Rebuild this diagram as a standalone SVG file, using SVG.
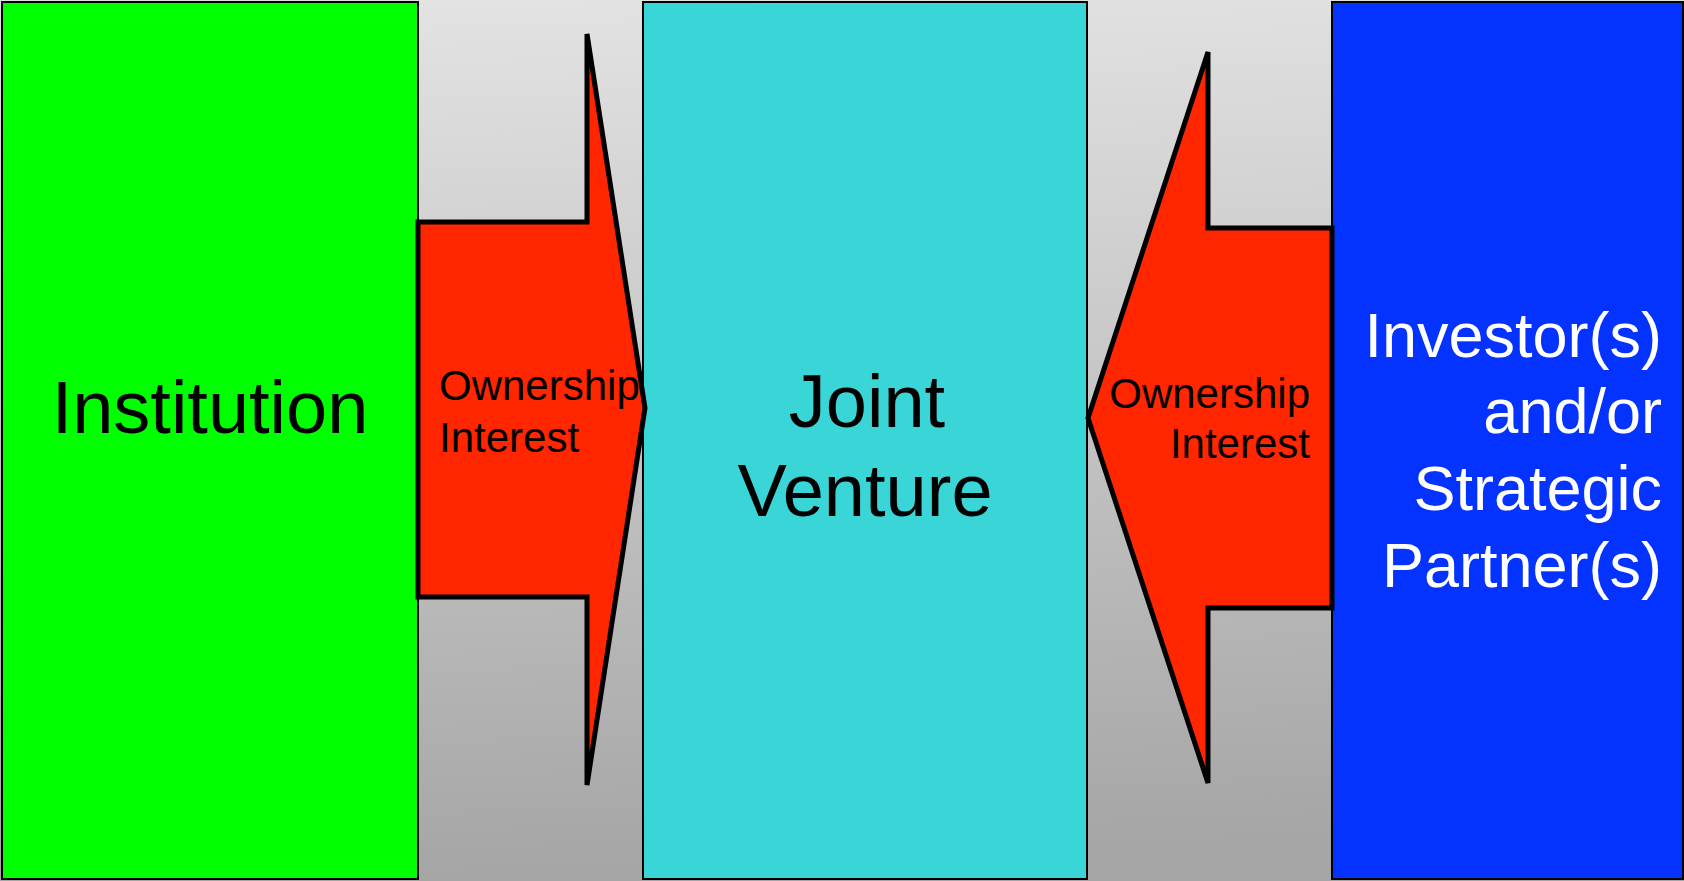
<svg xmlns="http://www.w3.org/2000/svg" width="1684" height="881" viewBox="0 0 1684 881">
  <defs>
    <linearGradient id="bg" x1="0" y1="0" x2="0.08" y2="1">
      <stop offset="0" stop-color="#e4e4e4"/>
      <stop offset="1" stop-color="#a6a6a6"/>
    </linearGradient>
    <style>
      .box { stroke: #000; stroke-width: 2; }
      .arrow { fill: #ff2600; stroke: #000; stroke-width: 5; stroke-linejoin: miter; stroke-miterlimit: 4; }
      .big { font-family: "Liberation Sans", Arial, sans-serif; font-size: 74px; fill: #000; }
      .side { font-family: "Liberation Sans", Arial, sans-serif; font-size: 63px; fill: #fff; text-anchor: end; }
      .lbl { font-family: "Liberation Sans", Arial, sans-serif; font-size: 42px; fill: #000; }
    </style>
  </defs>

  <!-- backdrop -->
  <rect x="0" y="0" width="1684" height="881" fill="url(#bg)"/>

  <g id="institution">
    <rect class="box" x="2" y="2" width="416" height="877" fill="#00ff00"/>
    <text class="big" x="210" y="433" text-anchor="middle">Institution</text>
  </g>

  <g id="joint-venture">
    <rect class="box" x="643" y="2" width="444" height="877" fill="#3ad5d6"/>
    <text class="big" text-anchor="middle"><tspan x="867" y="427">Joint</tspan><tspan x="865" y="516">Venture</tspan></text>
  </g>

  <g id="investors">
    <rect class="box" x="1332" y="2" width="351" height="877" fill="#0433ff"/>
    <text class="side"><tspan x="1662" y="357">Investor(s)</tspan><tspan x="1662" y="433">and/or</tspan><tspan x="1662" y="510">Strategic</tspan><tspan x="1662" y="587">Partner(s)</tspan></text>
  </g>

  <g id="connectors">
    <g id="arrow-institution-jv">
      <polygon class="arrow" points="418,222 587,222 587,34 645,408 587,785 587,597 418,597"/>
      <text class="lbl"><tspan x="439" y="400">Ownership</tspan><tspan x="439" y="452">Interest</tspan></text>
    </g>
    <g id="arrow-investors-jv">
      <polygon class="arrow" points="1332,228 1208,228 1208,52 1088,418 1208,783 1208,608 1332,608"/>
      <text class="lbl" text-anchor="end"><tspan x="1310" y="408">Ownership</tspan><tspan x="1310" y="458">Interest</tspan></text>
    </g>
  </g>
</svg>
